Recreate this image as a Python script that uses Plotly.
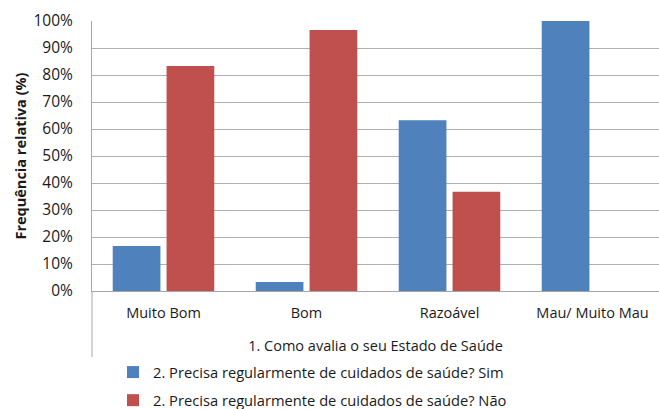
import plotly.graph_objects as go

categories = ["Muito Bom", "Bom", "Razoável", "Mau/ Muito Mau"]
sim_values = [16.7, 3.3, 63.2, 100.0]
nao_values = [83.3, 96.7, 36.8, 0.0]
series_names = ["2. Precisa regularmente de cuidados de saúde? Sim",
                "2. Precisa regularmente de cuidados de saúde? Não"]
y_ticks = list(range(0, 101, 10))
y_tick_labels = [f"{v}%" for v in y_ticks]

W, H = 659, 409
L, R, T, B = 92, 0, 21, 118
FONT = "Open Sans"
TXT = "#1a1a1a"

fig = go.Figure()
fig.add_trace(go.Bar(x=categories, y=sim_values, name=series_names[0], legendgroup="a",
                     marker=dict(color="#4F81BD", line=dict(width=0))))
fig.add_trace(go.Bar(x=categories, y=nao_values, name=series_names[1], legendgroup="b",
                     marker=dict(color="#C0504D", line=dict(width=0))))

plot_w = W - L - R
plot_h = H - T - B
fig.update_layout(
    width=W, height=H,
    margin=dict(l=L, r=R, t=T, b=B, autoexpand=False),
    paper_bgcolor="white", plot_bgcolor="white",
    barmode="group", bargap=0.247, bargroupgap=0.114,
    font=dict(family=FONT, color=TXT, size=14),
    showlegend=True,
    legend=dict(orientation="v", x=(113 - L) / plot_w, xanchor="left",
                y=-(356 - 291) / plot_h, yanchor="top",
                font=dict(size=14.7, family=FONT, color=TXT),
                itemwidth=30, tracegroupgap=6, traceorder="grouped"),
    xaxis=dict(range=[-0.5, 3.465], showgrid=False, showline=True, automargin=False,
               linecolor="#A6A6A6", linewidth=1, ticks="", ticklabelstandoff=9,
               tickfont=dict(size=14.5, family=FONT, color=TXT),
               title=dict(text="1. Como avalia o seu Estado de Saúde",
                          font=dict(size=14.5, family=FONT, color=TXT), standoff=19)),
    yaxis=dict(range=[0, 100], tickvals=y_ticks, ticktext=y_tick_labels, automargin=False,
               showgrid=True, gridcolor="#B0B0B0", gridwidth=1,
               showline=True, linecolor="#A6A6A6", linewidth=1, ticks="",
               zeroline=False, ticklabelstandoff=15,
               tickfont=dict(size=15.5, family=FONT, color=TXT),
               title=dict(text="<b>Frequência relativa (%)</b>",
                          font=dict(size=14.5, family=FONT, color=TXT), standoff=3)),
)

fig.add_shape(type="line", xref="paper", yref="paper",
              x0=0, x1=0, y0=0, y1=-(357 - 291) / plot_h,
              line=dict(color="#A6A6A6", width=1))

fig.write_html("out.html", config={"displayModeBar": False},
               post_script="document.body.style.margin='0';document.body.style.overflow='hidden';")
